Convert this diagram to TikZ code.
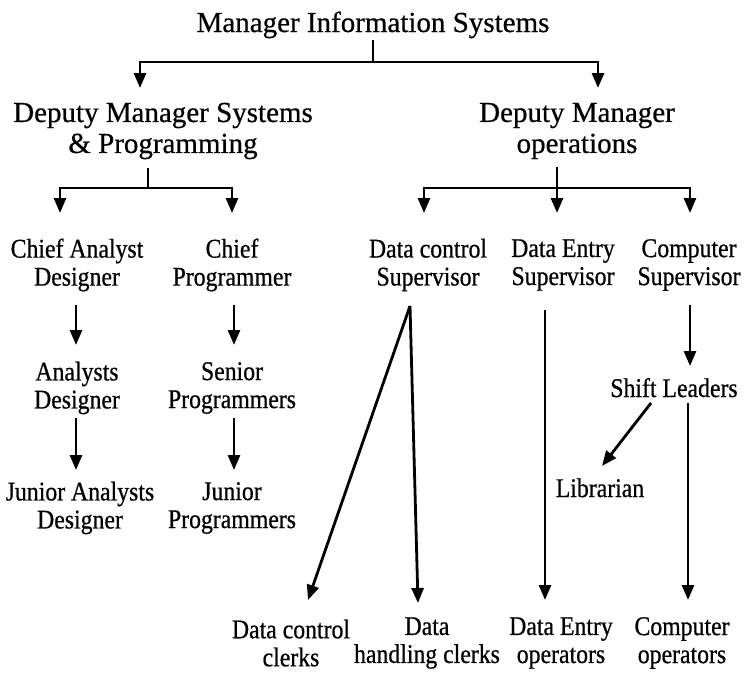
\documentclass[tikz,border=0pt]{standalone}
\usepackage{fontspec}
\setmainfont[FakeBold=0.6]{Liberation Serif}
\newfontfamily\condfont[FakeStretch=0.88,FakeBold=0.6]{Liberation Serif}
\usetikzlibrary{arrows.meta}
\begin{document}
\begin{tikzpicture}[x=1pt,y=-1pt,
  big/.style={font=\fontsize{29}{31}\selectfont, align=center, inner sep=0pt},
  small/.style={font=\condfont\fontsize{27}{28}\selectfont, align=center, inner sep=0pt},
  ln/.style={line width=2.8pt},
  arr/.style={ln, -{Triangle[width=12pt,length=15pt]}}]
\fill[white] (0,0) rectangle (746,672);
\useasboundingbox (0,0) rectangle (746,672);

% nodes
\node[big, anchor=base] (title) at (373,32) {Manager Information Systems};
\node[big] (DMS) at (163,131) {Deputy Manager Systems\\\& Programming};
\node[big] (DMO) at (577,131) {Deputy Manager\\operations};

\node[small] (CAD) at (77,265) {Chief Analyst\\Designer};
\node[small] (CP)  at (232,265) {Chief\\Programmer};
\node[small] (DCS) at (428,265) {Data control\\Supervisor};
\node[small] (DES) at (563,265) {Data Entry\\Supervisor};
\node[small] (CS)  at (689,265) {Computer\\Supervisor};

\node[small] (AD) at (77,388) {Analysts\\Designer};
\node[small] (SP) at (232,388) {Senior\\Programmers};
\node[small] (JAD) at (80,508) {Junior Analysts\\Designer};
\node[small] (JP) at (232,508) {Junior\\Programmers};

\node[small, anchor=base] (SL) at (674,397) {Shift Leaders};
\node[small, anchor=base] (Lib) at (600,497) {Librarian};

\node[small] (DCC) at (291,643) {Data control\\clerks};
\node[small] (DHC) at (427,643) {Data\\handling clerks};
\node[small] (DEO) at (561,643) {Data Entry\\operators};
\node[small] (CO)  at (682,643) {Computer\\operators};

% junction coordinates
\coordinate (t0) at (373,40);
\coordinate (j0) at (373,62);
\coordinate (a1) at (140,88);
\coordinate (a2) at (598,88);

\coordinate (s0) at (148,168);
\coordinate (j1) at (148,188);
\coordinate (b1) at (60,213);
\coordinate (b2) at (232,213);

\coordinate (o0) at (557,167);
\coordinate (j2) at (557,188);
\coordinate (c1) at (424,213);
\coordinate (c2) at (557,213);
\coordinate (c3) at (690,213);

\coordinate (cad) at (76,305);
\coordinate (ad1) at (76,345);
\coordinate (ad2) at (76,418);
\coordinate (jad) at (76,470);
\coordinate (cp)  at (234,305);
\coordinate (sp1) at (234,345);
\coordinate (sp2) at (234,418);
\coordinate (jp)  at (234,470);

\coordinate (dcs) at (410,306);
\coordinate (dcc) at (308,600);
\coordinate (dhc) at (418,603);
\coordinate (des) at (545,310);
\coordinate (deo) at (545,600);
\coordinate (cs)  at (690,305);
\coordinate (sl)  at (690,366);
\coordinate (slb) at (688,403);
\coordinate (co)  at (688,600);
\coordinate (sll) at (651,403);
\coordinate (lib) at (602,466);

% top level
\draw[ln] (t0) -- (j0);
\draw[arr] (j0) -| (a1);
\draw[arr] (j0) -| (a2);

% systems & programming branch
\draw[ln] (s0) -- (j1);
\draw[arr] (j1) -| (b1);
\draw[arr] (j1) -| (b2);

% operations branch
\draw[ln] (o0) -- (j2);
\draw[arr] (j2) -| (c1);
\draw[arr] (j2) -- (c2);
\draw[arr] (j2) -| (c3);

% analyst / programmer chains
\draw[arr] (cad) -- (ad1);
\draw[arr] (cp) -- (sp1);
\draw[arr] (ad2) -- (jad);
\draw[arr] (sp2) -- (jp);

% data control
\draw[arr] (dcs) -- (dcc);
\draw[arr] (dcs) -- (dhc);
% data entry
\draw[arr] (des) -- (deo);
% computer
\draw[arr] (cs) -- (sl);
\draw[arr] (sll) -- (lib);
\draw[arr] (slb) -- (co);
\end{tikzpicture}
\end{document}
